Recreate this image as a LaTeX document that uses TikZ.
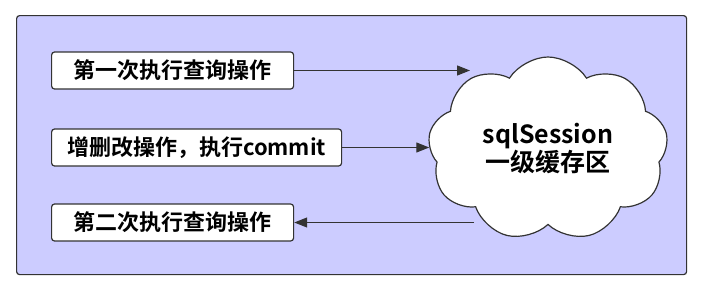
\documentclass[tikz,border=0pt]{standalone}
\usepackage{fontspec}
\newfontfamily\cjk{Noto Sans CJK SC}[BoldFont={Noto Sans CJK SC Bold}]
\usepackage{tikz}
\definecolor{cachebg}{RGB}{204,204,255}
\definecolor{linegray}{RGB}{51,51,51}
\usetikzlibrary{
  arrows.meta,
  positioning,
  shapes.symbols
}

\begin{document}
\begin{tikzpicture}[
    x=1pt, y=-1pt,
    opbox/.style={draw=linegray, fill=white, line width=1.2pt, rounded corners=3pt,
                  minimum height=37pt, inner xsep=0pt, anchor=west,
                  font=\cjk\bfseries\fontsize{22}{26}\selectfont},
    cachecloud/.style={cloud, cloud puffs=9, cloud puff arc=115, aspect=1.3,
                       draw=linegray, fill=white, line width=1.2pt,
                       minimum width=240pt, minimum height=184pt,
                       font=\cjk\bfseries\fontsize{25}{28}\selectfont, align=center},
    flow/.style={draw=linegray, line width=1.2pt,
                 -{Triangle[length=13pt, width=10pt]}}
  ]

  \useasboundingbox (0,0) rectangle (704,292);

  %% Outer frame
  \node[draw=linegray, fill=cachebg, line width=1.2pt, rounded corners=3pt,
        minimum width=670pt, minimum height=259pt, anchor=north west]
    (frame) at (16,15) {};

  %% Operations
  \node[opbox, minimum width=242pt] (op1) at (51,70.5) {第一次执行查询操作};
  \node[opbox, minimum width=290pt] (op2) at (51,147.5) {增删改操作，执行commit};
  \node[opbox, minimum width=242pt] (op3) at (51,222.5) {第二次执行查询操作};

  %% Cache
  \coordinate (in1) at (470,70.5);
  \coordinate (out3) at (474,222.5);
  \draw[draw=linegray, line width=1.2pt] (op3.east -| out3) -- (out3);
  \node[cachecloud] (cache) at (548,149) {sqlSession\\一级缓存区};

  %% Arrows
  \draw[flow] (op1) -- (in1);
  \draw[flow] (op2) -- (op2 -| cache.west);
  \draw[flow] (out3) -- (op3);

\end{tikzpicture}
\end{document}
